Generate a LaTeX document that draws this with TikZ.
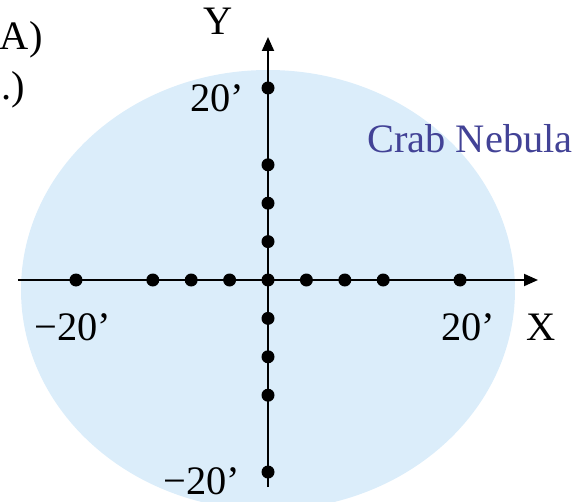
\documentclass[tikz,border=0pt]{standalone}
\usepackage{fontspec}
\setmainfont{Liberation Serif}
\usetikzlibrary{arrows.meta}
\definecolor{nebulafill}{RGB}{219,237,250}
\definecolor{nebulatext}{RGB}{66,66,150}

\begin{document}
\begin{tikzpicture}[
    axis/.style={-{Triangle[length=0.28cm, width=0.24cm]}, line width=1.1pt},
    dot/.style={circle, fill=black, inner sep=0pt, minimum size=0.26cm},
    lbl/.style={font=\fontsize{23}{27}\selectfont, inner sep=0pt, anchor=base},
]
    \useasboundingbox (-5.36,-4.42) rectangle (6.34,5.60);
    \clip (-5.36,-4.42) rectangle (6.34,5.60);

    % nebula outline
    \fill[nebulafill] (0,-0.2) ellipse [x radius=4.94cm, y radius=4.4cm];

    \coordinate (xstart) at (-5.0,0);
    \coordinate (xend) at (5.4,0);
    \coordinate (ystart) at (0,-4.14);
    \coordinate (yend) at (0,4.86);
    \draw[axis] (xstart) -- (xend);
    \draw[axis] (ystart) -- (yend);

    \foreach \d in {-20,-12,-8,-4,0,4,8,12,20} {
        \node[dot] (x\d) at (\d*0.192,0) {};
    }
    \foreach \d in {-20,-12,-8,-4,4,8,12,20} {
        \node[dot] (y\d) at (0,\d*0.192) {};
    }

    \node[lbl] (xlbl) at (5.46,-1.2) {X};
    \node[lbl] (ylbl) at (-0.99,4.9) {Y};
    \node[lbl] (xpos) at (4.0,-1.2) {20’};
    \node[lbl] (xneg) at (-3.9,-1.2) {−20’};
    \node[lbl] (ypos) at (-1.02,3.36) {20’};
    \node[lbl] (yneg) at (-1.32,-4.28) {−20’};
    \node[lbl, text=nebulatext] (crab) at (4.04,2.54) {Crab Nebula};
    \node[lbl, anchor=base east] (ra) at (-4.5,4.6) {A)};
    \node[lbl, anchor=base east] (dec) at (-4.86,3.6) {.)};
\end{tikzpicture}
\end{document}
